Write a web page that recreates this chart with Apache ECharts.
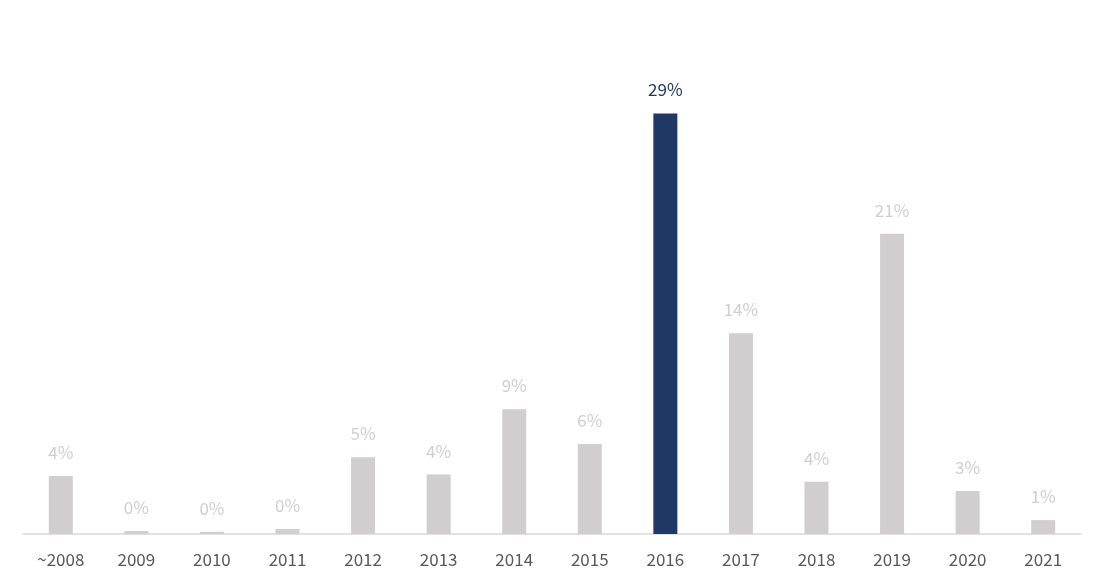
<!DOCTYPE html>
<html><head><meta charset="utf-8">
<script src="https://cdn.jsdelivr.net/npm/echarts@6/dist/echarts.min.js"></script>
<style>html,body{margin:0;padding:0;background:#fff}#c{width:1105px;height:587px}</style>
</head><body><div id="c"></div>
<script>
var categories = ['~2008','2009','2010','2011','2012','2013','2014','2015','2016','2017','2018','2019','2020','2021'];
var values = [4.0, 0.2, 0.15, 0.35, 5.3, 4.1, 8.6, 6.2, 29.0, 13.85, 3.6, 20.7, 2.96, 0.96];
var highlightCategory = '2016';

var chart = echarts.init(document.getElementById('c'));
var font = '"Noto Sans CJK KR", "Noto Sans", sans-serif';
chart.setOption({
  animation: false,
  grid: {left: 23, right: 24, top: 99, bottom: 53},
  xAxis: {
    type: 'category', data: categories,
    axisLine: {lineStyle: {color: '#d9d9d9', width: 1.5}},
    axisTick: {show: false},
    axisLabel: {color: '#595959', fontSize: 17, fontFamily: font, margin: 17}
  },
  yAxis: {type: 'value', min: 0, max: 30, show: false, splitLine: {show: false}},
  series: [{
    type: 'bar', barWidth: 24,
    data: values.map(function (v, i) {
      var hi = categories[i] === highlightCategory;
      return {
        value: v,
        itemStyle: {color: hi ? '#203864' : '#d0cece'},
        label: {color: hi ? '#203864' : '#cfcfcf'}
      };
    }),
    label: {
      show: true, position: 'top', distance: 15,
      fontSize: 17, fontFamily: font,
      formatter: function (p) { return Math.round(p.value) + '%'; }
    }
  }]
});
</script></body></html>
